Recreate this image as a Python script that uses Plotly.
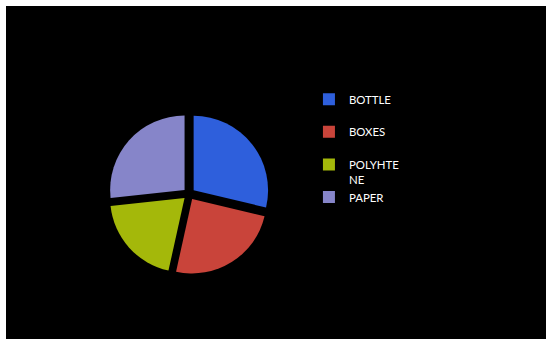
import plotly.graph_objects as go

# Waste composition by material
labels = ["BOTTLE<br> ", "BOXES<br> ", "POLYHTE<br>NE", "PAPER"]
values = [29, 25, 20, 27]
colors = ["#2e5fdc", "#c9443a", "#a4b80a", "#8685c9"]

fig = go.Figure(
    go.Pie(
        labels=labels,
        values=values,
        sort=False,
        direction="clockwise",
        rotation=0,
        pull=[0.08] * len(values),
        marker=dict(colors=colors, line=dict(color="black", width=0)),
        textinfo="none",
        hoverinfo="label+percent",
        domain=dict(x=[0.190, 0.4877], y=[0.183, 0.688]),
    )
)

fig.update_layout(
    width=551,
    height=339,
    margin=dict(l=6, r=5, t=6, b=0),
    paper_bgcolor="white",
    plot_bgcolor="black",
    shapes=[
        dict(type="rect", xref="paper", yref="paper", x0=0, x1=1, y0=0, y1=1,
             fillcolor="black", line=dict(width=0), layer="below")
    ],
    legend=dict(
        x=0.561, y=0.762, xanchor="left", yanchor="top",
        valign="top",
        bgcolor="rgba(0,0,0,0)",
        font=dict(family="Lato, Liberation Sans, Arial", size=11.4, color="white"),
    ),
    showlegend=True,
)

fig.write_html("out.html")
